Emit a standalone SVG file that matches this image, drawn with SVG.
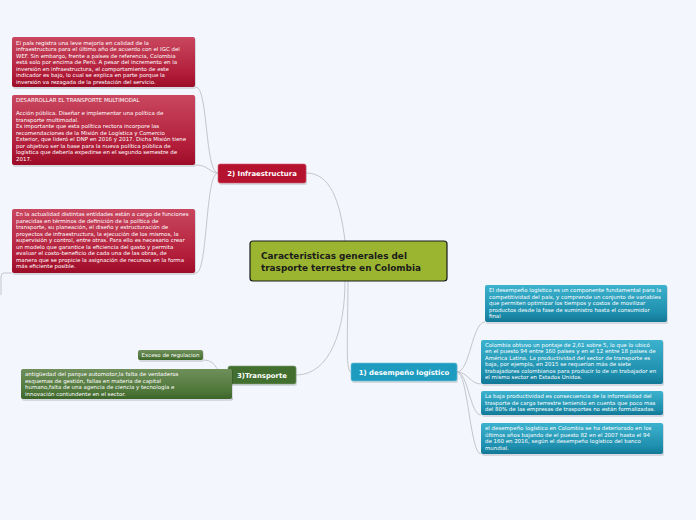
<svg xmlns="http://www.w3.org/2000/svg" width="696" height="520" viewBox="0 0 696 520">
<defs>
<linearGradient id="gr" x1="0" y1="0" x2="0" y2="1"><stop offset="0" stop-color="#c9475f"/><stop offset="0.75" stop-color="#b11c38"/><stop offset="1" stop-color="#9c0c27"/></linearGradient>
<linearGradient id="gb" x1="0" y1="0" x2="0" y2="1"><stop offset="0" stop-color="#3cb2ce"/><stop offset="0.75" stop-color="#1e8fae"/><stop offset="1" stop-color="#127896"/></linearGradient>
<linearGradient id="gg" x1="0" y1="0" x2="0" y2="1"><stop offset="0" stop-color="#6f8f5b"/><stop offset="0.75" stop-color="#4e7639"/><stop offset="1" stop-color="#3b6428"/></linearGradient>
<style>
.bg{fill:#f3f6fd}
.c{fill:none;stroke:#c4c6cc;stroke-width:1}
.sh{fill:#000;opacity:0.12}
.t{font-family:"DejaVu Sans",Verdana,sans-serif;font-size:5.45px;fill:#fff}
.h{font-family:"DejaVu Sans",Verdana,sans-serif;font-weight:bold;fill:#fff;font-size:6.9px}
.m{font-family:"DejaVu Sans",Verdana,sans-serif;font-weight:bold;fill:#1b1b1b;font-size:8.9px}
</style>
</defs>
<rect class="bg" x="0" y="0" width="696" height="520"/>
<g id="connectors">
<path class="c" d="M306,173 C330,173 340,200 345,241"/>
<path class="c" d="M345,281 C345,330 330,375 296,375"/>
<path class="c" d="M348,281 C348,330 345,372 351,372"/>
<path class="c" d="M218,173 C205,173 208,87 196,87"/>
<path class="c" d="M218,173 C210,173 208,165 196,165"/>
<path class="c" d="M218,173 C205,173 208,273 196,273"/>
<path class="c" d="M12,273 L4,273 Q1,273 1,277 L1,295"/>
<path class="c" d="M228,375 C215,375 218,360 204,360"/>
<path class="c" d="M228,375 C218,375 222,399 233,399"/>
<path class="c" d="M457,372 C470,372 472,322 485,322"/>
<path class="c" d="M457,372 C468,372 470,384 481,384"/>
<path class="c" d="M457,372 C468,372 470,415 481,415"/>
<path class="c" d="M457,372 C468,372 470,454 481,454"/>
</g>
<g id="center">
<rect x="250" y="241" width="197" height="40" rx="3" fill="#9bb530" stroke="#1a1a1a" stroke-width="1.2"/>
<text class="m" x="261" y="259">Caracteristicas generales del</text>
<text class="m" x="261" y="271">trasporte terrestre en Colombia</text>
</g>
<g id="infra">
<rect class="sh" x="219" y="165" width="88" height="20" rx="2"/>
<rect x="218" y="164" width="88" height="19" rx="2" fill="#b5122f" stroke="#d55a6e" stroke-width="0.6"/>
<text class="h" x="262" y="176" text-anchor="middle">2) Infraestructura</text>
</g>
<g id="transporte">
<rect class="sh" x="229" y="367" width="68" height="19" rx="2"/>
<rect x="228" y="366" width="68" height="18" rx="2" fill="#426f2f" stroke="#7d9b6c" stroke-width="0.6"/>
<text class="h" x="262" y="378" text-anchor="middle">3)Transporte</text>
</g>
<g id="desempeno">
<rect class="sh" x="352" y="364" width="106" height="19" rx="2"/>
<rect x="351" y="363" width="106" height="18" rx="2" fill="#1e9cc0" stroke="#6cc3da" stroke-width="0.6"/>
<text class="h" x="404" y="375" text-anchor="middle">1) desempeño logístico</text>
</g>
<g id="r1">
<rect class="sh" x="13" y="38" width="183" height="51" rx="2"/>
<rect x="12" y="37" width="183" height="50" rx="2" fill="url(#gr)"/>
<text class="t"><tspan x="16" y="44.5">El país registra una leve mejoría en calidad de la</tspan><tspan x="16" y="51">infraestructura para el último año de acuerdo con el IGC del</tspan><tspan x="16" y="57.5">WEF. Sin embargo, frente a países de referencia, Colombia</tspan><tspan x="16" y="64">está solo por encima de Perú. A pesar del incremento en la</tspan><tspan x="16" y="70.5">inversión en infraestructura, el comportamiento de este</tspan><tspan x="16" y="77">indicador es bajo, lo cual se explica en parte porque la</tspan><tspan x="16" y="83.5">inversión va rezagada de la prestación del servicio.</tspan></text>
</g>
<g id="r2">
<rect class="sh" x="13" y="96" width="183" height="71" rx="2"/>
<rect x="12" y="95" width="183" height="70" rx="2" fill="url(#gr)"/>
<text class="t"><tspan x="16" y="102">DESARROLLAR EL TRANSPORTE MULTIMODAL</tspan><tspan x="16" y="115">Acción pública. Diseñar e implementar una política de</tspan><tspan x="16" y="121.5">transporte multimodal.</tspan><tspan x="16" y="128">Es importante que esta política rectora incorpore las</tspan><tspan x="16" y="134.5">recomendaciones de la Misión de Logística y Comercio</tspan><tspan x="16" y="141">Exterior, que lideró el DNP en 2016 y 2017. Dicha Misión tiene</tspan><tspan x="16" y="147.5">por objetivo ser la base para la nueva política pública de</tspan><tspan x="16" y="154">logística que debería expedirse en el segundo semestre de</tspan><tspan x="16" y="160.5">2017.</tspan></text>
</g>
<g id="r3">
<rect class="sh" x="13" y="210" width="183" height="65" rx="2"/>
<rect x="12" y="209" width="183" height="64" rx="2" fill="url(#gr)"/>
<text class="t"><tspan x="16" y="216">En la actualidad distintas entidades están a cargo de funciones</tspan><tspan x="16" y="222.5">parecidas en términos de definición de la política de</tspan><tspan x="16" y="229">transporte, su planeación, el diseño y estructuración de</tspan><tspan x="16" y="235.5">proyectos de infraestructura, la ejecución de los mismos, la</tspan><tspan x="16" y="242">supervisión y control, entre otras. Para ello es necesario crear</tspan><tspan x="16" y="248.5">un modelo que garantice la eficiencia del gasto y permita</tspan><tspan x="16" y="255">evaluar el costo-beneficio de cada una de las obras, de</tspan><tspan x="16" y="261.5">manera que se propicie la asignación de recursos en la forma</tspan><tspan x="16" y="268">más eficiente posible.</tspan></text>
</g>
<g id="g1">
<rect class="sh" x="139" y="351" width="65" height="11" rx="2"/>
<rect x="138" y="350" width="65" height="10" rx="2" fill="url(#gg)"/>
<text class="t" x="170.5" y="357" text-anchor="middle">Exceso de regulacion</text>
</g>
<g id="g2">
<rect class="sh" x="22" y="370" width="211" height="31" rx="2"/>
<rect x="21" y="369" width="211" height="30" rx="2" fill="url(#gg)"/>
<text class="t"><tspan x="25" y="376">antigüedad del parque automotor,la falta de verdaderos</tspan><tspan x="25" y="382.5">esquemas de gestión, fallas en materia de capital</tspan><tspan x="25" y="389">humano,falta de una agencia de ciencia y tecnología e</tspan><tspan x="25" y="395.5">innovación contundente en el sector.</tspan></text>
</g>
<g id="b1">
<rect class="sh" x="486" y="286" width="182" height="38" rx="2"/>
<rect x="485" y="285" width="182" height="37" rx="2" fill="url(#gb)"/>
<text class="t"><tspan x="489" y="292">El desempeño logístico es un componente fundamental para la</tspan><tspan x="489" y="298.5">competitividad del país, y comprende un conjunto de variables</tspan><tspan x="489" y="305">que permiten optimizar los tiempos y costos de movilizar</tspan><tspan x="489" y="311.5">productos desde la fase de suministro hasta el consumidor</tspan><tspan x="489" y="318">final</tspan></text>
</g>
<g id="b2">
<rect class="sh" x="482" y="341" width="182" height="45" rx="2"/>
<rect x="481" y="340" width="182" height="44" rx="2" fill="url(#gb)"/>
<text class="t"><tspan x="485" y="346.5">Colombia obtuvo un pontaje de 2,61 sobre 5, lo que lo ubicó</tspan><tspan x="485" y="353">en el puesto 94 entre 160 países y en el 12 entre 18 países de</tspan><tspan x="485" y="359.5">América Latina. La productividad del sector de transporte es</tspan><tspan x="485" y="366">baja, por ejemplo, en 2015 se requerían más de siete</tspan><tspan x="485" y="372.5">trabajadores colombianos para producir lo de un trabajador en</tspan><tspan x="485" y="379">el mismo sector en Estados Unidos.</tspan></text>
</g>
<g id="b3">
<rect class="sh" x="482" y="392" width="182" height="25" rx="2"/>
<rect x="481" y="391" width="182" height="24" rx="2" fill="url(#gb)"/>
<text class="t"><tspan x="485" y="398">La baja productividad es consecuencia de la informalidad del</tspan><tspan x="485" y="404.5">trasporte de carga terrestre teniendo en cuenta que poco mas</tspan><tspan x="485" y="411">del 80% de las empresas de trasportes no están formalizadas.</tspan></text>
</g>
<g id="b4">
<rect class="sh" x="482" y="424" width="182" height="32" rx="2"/>
<rect x="481" y="423" width="182" height="31" rx="2" fill="url(#gb)"/>
<text class="t"><tspan x="485" y="430">el desempeño logístico en Colombia se ha deteriorado en los</tspan><tspan x="485" y="436.5">últimos años bajando de el puesto 82 en el 2007 hasta el 94</tspan><tspan x="485" y="443">de 160 en 2016, según el desempeño logístico del banco</tspan><tspan x="485" y="449.5">mundial.</tspan></text>
</g>
</svg>
